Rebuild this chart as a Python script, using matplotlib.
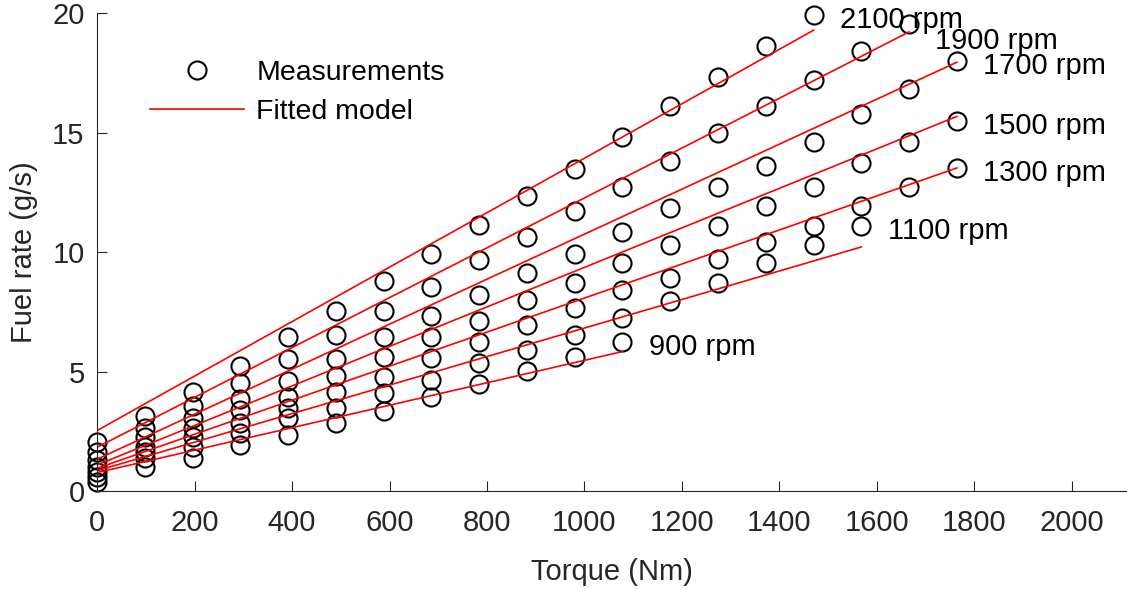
import matplotlib.pyplot as plt

plt.rcParams['font.family'] = ['Liberation Sans', 'DejaVu Sans']

# torque grid (Nm) used for every speed
torque = [0, 98, 196, 294, 392, 490, 588, 686, 784, 882, 980,
          1078, 1176, 1274, 1372, 1470, 1568, 1666, 1764]

speeds = [900, 1100, 1300, 1500, 1700, 1900, 2100]

# measured fuel rate (g/s), one list per engine speed
fuel_900 = [0.39, 1.02, 1.37, 1.93, 2.35, 2.84, 3.33, 3.95, 4.49, 5.04, 5.63, 6.22]
fuel_1100 = [0.60, 1.37, 1.86, 2.42, 3.05, 3.47, 4.10, 4.65, 5.38, 5.91, 6.54,
             7.24, 7.94, 8.73, 9.55, 10.31, 11.11]
fuel_1300 = [0.81, 1.65, 2.28, 2.86, 3.47, 4.16, 4.79, 5.56, 6.22, 6.96, 7.66,
             8.40, 8.92, 9.71, 10.41, 11.11, 11.92, 12.73, 13.53]
fuel_1500 = [1.02, 1.86, 2.63, 3.40, 3.95, 4.82, 5.63, 6.44, 7.10, 7.98, 8.73,
             9.55, 10.31, 11.11, 11.92, 12.73, 13.74, 14.60, 15.48]
fuel_1700 = [1.30, 2.28, 3.05, 3.84, 4.61, 5.52, 6.47, 7.34, 8.22, 9.15, 9.94,
             10.83, 11.85, 12.73, 13.60, 14.60, 15.77, 16.84, 18.00]
fuel_1900 = [1.65, 2.63, 3.56, 4.52, 5.52, 6.54, 7.52, 8.54, 9.66, 10.64, 11.71,
             12.72, 13.81, 15.00, 16.11, 17.23, 18.42, 19.58]
fuel_2100 = [2.07, 3.14, 4.16, 5.24, 6.44, 7.52, 8.78, 9.94, 11.15, 12.34, 13.50,
             14.81, 16.14, 17.32, 18.62, 19.92]

measurements = [fuel_900, fuel_1100, fuel_1300, fuel_1500, fuel_1700, fuel_1900, fuel_2100]

# fitted (linear) model: value at zero torque and at the last measured torque
fit_start = [0.77, 0.85, 0.95, 1.09, 1.33, 1.83, 2.53]
fit_end = [5.84, 10.22, 13.53, 15.69, 17.96, 19.23, 19.30]

# vertical nudge of the speed labels (1900 moved down to clear 2100)
label_nudge = [-0.2, -0.2, -0.2, -0.2, -0.2, -0.75, -0.2]

axis_col = '#262626'

fig = plt.figure(figsize=(11.27, 5.89), dpi=100)
ax = fig.add_axes([0.0861, 0.1664, 0.9139, 0.8107])

for i, (spd, fuel) in enumerate(zip(speeds, measurements)):
    tq = torque[:len(fuel)]
    ax.plot(tq, fuel, 'o', mfc='none', mec='black', ms=13, mew=1.5,
            label='Measurements' if i == 0 else None, clip_on=False)
for i, (spd, fuel) in enumerate(zip(speeds, measurements)):
    tmax = torque[len(fuel) - 1]
    ax.plot([0, tmax], [fit_start[i], fit_end[i]], color='red', lw=1.2,
            label='Fitted model' if i == 0 else None)
    ax.text(tmax + 54, fuel[-1] + label_nudge[i], f'{spd} rpm', fontsize=21,
            va='center', ha='left', color='black')

ax.set_xlim(0, 2113)
ax.set_ylim(0, 20)
ax.set_xticks(range(0, 2001, 200))
ax.set_yticks([0, 5, 10, 15, 20])
ax.tick_params(direction='in', length=7.5, width=0.8, colors=axis_col,
               labelsize=21, pad=9)
ax.tick_params(axis='x', pad=13)
for s in ['top', 'right']:
    ax.spines[s].set_visible(False)
for s in ['left', 'bottom']:
    ax.spines[s].set_color(axis_col)
    ax.spines[s].set_linewidth(0.8)

ax.set_xlabel('Torque (Nm)', fontsize=21, color=axis_col, labelpad=15)
ax.set_ylabel('Fuel rate (g/s)', fontsize=21, color=axis_col, labelpad=10)

ax.legend(loc='upper left', bbox_to_anchor=(0.04, 0.927), frameon=False,
          fontsize=20.5, handlelength=3.3, handletextpad=0.45, labelspacing=0.48,
          borderaxespad=0)

fig.savefig('out.png', dpi=100)
